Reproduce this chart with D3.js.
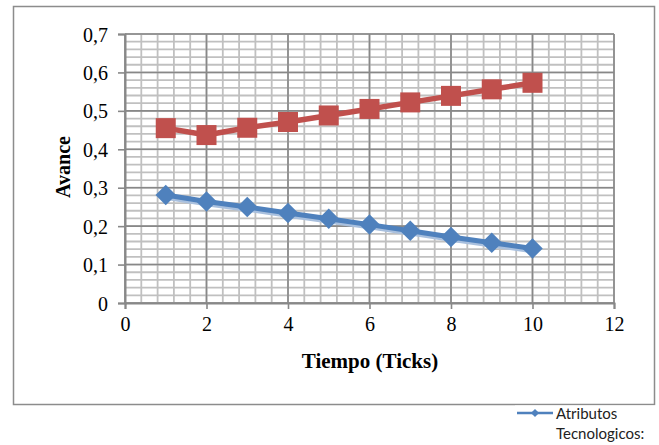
<!DOCTYPE html>
<html>
<head>
<meta charset="utf-8">
<script src="https://cdn.jsdelivr.net/npm/d3@7"></script>
<style>
  html, body { margin: 0; padding: 0; background: #fff; }
  svg { display: block; }
</style>
</head>
<body>
<div id="chart"></div>
<script>
// donnees
const ticks = [1, 2, 3, 4, 5, 6, 7, 8, 9, 10];
const atributos = [0.281, 0.264, 0.25, 0.234, 0.219, 0.204, 0.188, 0.172, 0.157, 0.142];
const otraSerie = [0.455, 0.437, 0.456, 0.471, 0.488, 0.505, 0.522, 0.539, 0.556, 0.573];
const xTicks = [0, 2, 4, 6, 8, 10, 12];
const yTicks = [0, 0.1, 0.2, 0.3, 0.4, 0.5, 0.6, 0.7];
const legendLabel = ["Atributos", "Tecnologicos:"];

const width = 659;
const height = 445;
const margin = { top: 34, right: 45, bottom: 142, left: 125 };

const svg = d3.select("#chart")
  .append("svg")
  .attr("width", width)
  .attr("height", height);

// cadre exterieur
svg.append("rect")
  .attr("x", 13.5).attr("y", 6.5)
  .attr("width", 641).attr("height", 398)
  .attr("fill", "none")
  .attr("stroke", "#8c8c8c")
  .attr("stroke-width", 1.5);

const xScale = d3.scaleLinear()
  .domain([0, 12])
  .range([margin.left, width - margin.right]);

const yScale = d3.scaleLinear()
  .domain([0, 0.7])
  .range([height - margin.bottom, margin.top]);

const serif = "'Liberation Serif', 'Times New Roman', serif";

// grille secondaire
const grid = svg.append("g");
grid.selectAll(".vminor")
  .data(d3.range(0, 12.0001, 0.4))
  .join("line")
  .attr("x1", d => xScale(d)).attr("x2", d => xScale(d))
  .attr("y1", yScale(0)).attr("y2", yScale(0.7))
  .attr("stroke", "#c0c0c0").attr("stroke-width", 1.8);
grid.selectAll(".hminor")
  .data(d3.range(0, 0.7001, 0.02))
  .join("line")
  .attr("x1", xScale(0)).attr("x2", xScale(12))
  .attr("y1", d => yScale(d)).attr("y2", d => yScale(d))
  .attr("stroke", "#c0c0c0").attr("stroke-width", 1.8);

// grille principale
grid.append("g").selectAll("line")
  .data(xTicks)
  .join("line")
  .attr("x1", d => xScale(d)).attr("x2", d => xScale(d))
  .attr("y1", yScale(0)).attr("y2", yScale(0.7))
  .attr("stroke", "#888").attr("stroke-width", 1.6);
grid.append("g").selectAll("line")
  .data(yTicks)
  .join("line")
  .attr("x1", xScale(0)).attr("x2", xScale(12))
  .attr("y1", d => yScale(d)).attr("y2", d => yScale(d))
  .attr("stroke", "#888").attr("stroke-width", 1.6);

// axes
const xAxis = d3.axisBottom(xScale).tickValues(xTicks).tickSize(6).tickPadding(8)
  .tickFormat(d3.format("d"));
const yAxis = d3.axisLeft(yScale).tickValues(yTicks).tickSize(7).tickPadding(10)
  .tickFormat(d => d === 0 ? "0" : d3.format(".1f")(d).replace(".", ","));

const gx = svg.append("g")
  .attr("transform", `translate(0, ${yScale(0)})`)
  .call(xAxis);
const gy = svg.append("g")
  .attr("transform", `translate(${xScale(0)}, 0)`)
  .call(yAxis);

[gx, gy].forEach(g => {
  g.select(".domain").attr("stroke", "#888").attr("stroke-width", 2);
  g.selectAll(".tick line").attr("stroke", "#888").attr("stroke-width", 1.6);
  g.selectAll("text")
    .attr("font-family", serif)
    .attr("font-size", 20)
    .attr("fill", "#000");
});
gy.selectAll("text").attr("dy", "0.35em");

// titres des axes
svg.append("text")
  .attr("x", 370).attr("y", 368)
  .attr("text-anchor", "middle")
  .attr("font-family", serif)
  .attr("font-weight", "bold")
  .attr("font-size", 21)
  .text("Tiempo (Ticks)");

svg.append("text")
  .attr("transform", "translate(70, 167) rotate(-90)")
  .attr("text-anchor", "middle")
  .attr("font-family", serif)
  .attr("font-weight", "bold")
  .attr("font-size", 20)
  .text("Avance");

const line = d3.line()
  .x((d, i) => xScale(ticks[i]))
  .y(d => yScale(d));

// serie bleue avec ombre
svg.append("path")
  .datum(atributos)
  .attr("fill", "none")
  .attr("stroke", "#a9c0de")
  .attr("stroke-width", 5)
  .attr("transform", "translate(1.5, 2.5)")
  .attr("d", line);
svg.append("path")
  .datum(atributos)
  .attr("fill", "none")
  .attr("stroke", "#4f81bd")
  .attr("stroke-width", 5)
  .attr("stroke-linejoin", "round")
  .attr("d", line);

svg.selectAll(".diam")
  .data(atributos)
  .join("path")
  .attr("transform", (d, i) => `translate(${xScale(ticks[i])}, ${yScale(d)}) rotate(45)`)
  .attr("d", d3.symbol().type(d3.symbolSquare).size(210))
  .attr("fill", "#4f81bd");

// serie rouge
svg.append("path")
  .datum(otraSerie)
  .attr("fill", "none")
  .attr("stroke", "#c0504d")
  .attr("stroke-width", 5.5)
  .attr("stroke-linejoin", "round")
  .attr("d", line);

svg.selectAll(".sq")
  .data(otraSerie)
  .join("rect")
  .attr("x", (d, i) => xScale(ticks[i]) - 10)
  .attr("y", d => yScale(d) - 10)
  .attr("width", 20).attr("height", 20)
  .attr("fill", "#c0504d");

// legende
const leg = svg.append("g");
leg.append("rect")
  .attr("x", 515).attr("y", 405.5)
  .attr("width", 144).attr("height", 40)
  .attr("fill", "#fff");
leg.append("line")
  .attr("x1", 517).attr("x2", 553)
  .attr("y1", 413).attr("y2", 413)
  .attr("stroke", "#4f81bd").attr("stroke-width", 2.5);
leg.append("path")
  .attr("transform", "translate(535, 413) rotate(45)")
  .attr("d", d3.symbol().type(d3.symbolSquare).size(34))
  .attr("fill", "#4f81bd");
leg.selectAll("text")
  .data(legendLabel)
  .join("text")
  .attr("x", 556)
  .attr("y", (d, i) => 419 + i * 20)
  .attr("font-family", "Lato, 'Noto Sans', sans-serif")
  .attr("font-size", 15)
  .attr("fill", "#222")
  .text(d => d);
</script>
</body>
</html>
